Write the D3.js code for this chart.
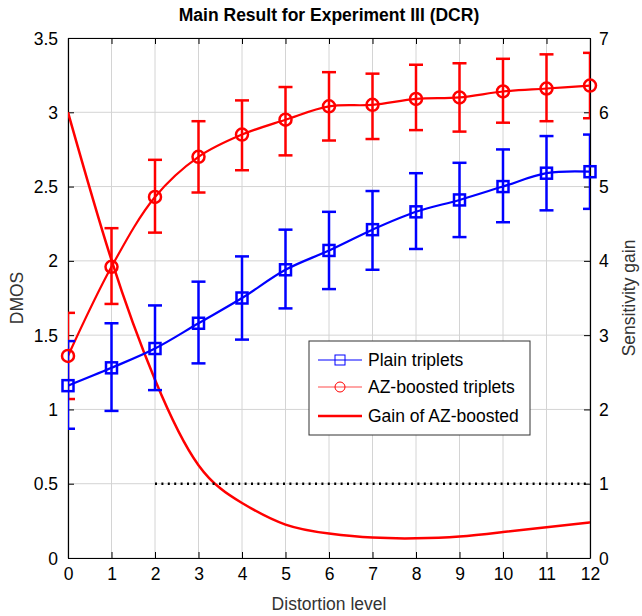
<!DOCTYPE html>
<html>
<head>
<meta charset="utf-8">
<script src="https://cdn.jsdelivr.net/npm/d3@7"></script>
<style>
  body { margin: 0; background: #fff; }
  text { font-family: "Liberation Sans", Arial, sans-serif; }
</style>
</head>
<body>
<svg id="chart" width="642" height="616"></svg>
<script>
// ---- data ----
const levels = [0, 1, 2, 3, 4, 5, 6, 7, 8, 9, 10, 11, 12];
const plainMean = [1.16, 1.28, 1.41, 1.58, 1.75, 1.94, 2.07, 2.21, 2.33, 2.41, 2.50, 2.59, 2.60];
const plainLow  = [0.87, 0.99, 1.13, 1.31, 1.47, 1.68, 1.81, 1.94, 2.08, 2.16, 2.26, 2.34, 2.35];
const plainHigh = [1.46, 1.58, 1.70, 1.86, 2.03, 2.21, 2.33, 2.47, 2.59, 2.66, 2.75, 2.84, 2.85];
const azMean = [1.36, 1.96, 2.43, 2.70, 2.85, 2.95, 3.04, 3.05, 3.09, 3.10, 3.14, 3.16, 3.18];
const azLow  = [1.07, 1.71, 2.19, 2.46, 2.61, 2.71, 2.81, 2.82, 2.88, 2.87, 2.93, 2.94, 2.96];
const azHigh = [1.65, 2.22, 2.68, 2.94, 3.08, 3.17, 3.27, 3.26, 3.32, 3.33, 3.36, 3.39, 3.40];
const gain = [6.0, 4.01, 2.40, 1.25, 0.74, 0.45, 0.33, 0.275, 0.265, 0.29, 0.35, 0.415, 0.48];
const refLevels = [2, 12];
const refGain = [1, 1];
const xTicks = [0, 1, 2, 3, 4, 5, 6, 7, 8, 9, 10, 11, 12];
const yLeftTicks = [0, 0.5, 1, 1.5, 2, 2.5, 3, 3.5];
const yRightTicks = [0, 1, 2, 3, 4, 5, 6, 7];
const legendLabels = ["Plain triplets", "AZ-boosted triplets", "Gain of AZ-boosted"];

// ---- layout ----
const svg = d3.select("#chart");
const L = 68, R = 590, T = 38, B = 558;
const x = d3.scaleLinear().domain([0, 12]).range([L, R]);
const yL = d3.scaleLinear().domain([0, 3.5]).range([B, T]);
const yR = d3.scaleLinear().domain([0, 7]).range([B, T]);
const BLUE = "#0000ff", RED = "#ff0000";

svg.append("rect").attr("width", 642).attr("height", 616).attr("fill", "#fff");

svg.append("defs").append("clipPath").attr("id", "plotclip")
  .append("rect").attr("x", L).attr("y", T).attr("width", R - L).attr("height", B - T);

// grid
const grid = svg.append("g");
grid.selectAll("line.gx").data(xTicks).enter().append("line")
  .attr("x1", d => x(d)).attr("x2", d => x(d)).attr("y1", T).attr("y2", B)
  .attr("stroke", "#d4d4d4").attr("stroke-width", 1);
grid.selectAll("line.gy").data(yLeftTicks).enter().append("line")
  .attr("x1", L).attr("x2", R).attr("y1", d => yL(d)).attr("y2", d => yL(d))
  .attr("stroke", "#d4d4d4").attr("stroke-width", 1);

// axes
const tickLen = 6;
const axB = svg.append("g").attr("transform", `translate(0,${B})`)
  .call(d3.axisBottom(x).tickValues(xTicks).tickSizeInner(-tickLen).tickSizeOuter(0).tickPadding(10).tickFormat(d3.format("d")));
const axT = svg.append("g").attr("transform", `translate(0,${T})`)
  .call(d3.axisTop(x).tickValues(xTicks).tickSizeInner(-tickLen).tickSizeOuter(0).tickFormat(""));
const axL = svg.append("g").attr("transform", `translate(${L},0)`)
  .call(d3.axisLeft(yL).tickValues(yLeftTicks).tickSizeInner(-tickLen).tickSizeOuter(0).tickPadding(10).tickFormat(d => d3.format("")(d)));
const axR = svg.append("g").attr("transform", `translate(${R},0)`)
  .call(d3.axisRight(yR).tickValues(yRightTicks).tickSizeInner(-tickLen).tickSizeOuter(0).tickPadding(9).tickFormat(d3.format("d")));
[axB, axT, axL, axR].forEach(a => {
  a.select(".domain").attr("stroke", "#000").attr("stroke-width", 1.2);
  a.selectAll(".tick line").attr("stroke", "#000").attr("stroke-width", 1);
  a.selectAll("text").attr("font-size", 17.5).attr("fill", "#000")
    .attr("font-family", "'Liberation Sans', Arial, sans-serif");
});
axL.selectAll("text").attr("dy", "0.35em");
axR.selectAll("text").attr("dy", "0.35em");

// plot content
const plot = svg.append("g").attr("clip-path", "url(#plotclip)");
const markers = svg.append("g");

function drawSeries(mean, low, high, color, marker) {
  const g = plot.append("g");
  const line = d3.line().x((d, i) => x(levels[i])).y(d => yL(d)).curve(d3.curveCatmullRom.alpha(0.5));
  g.append("path").datum(mean).attr("d", line).attr("fill", "none")
    .attr("stroke", color).attr("stroke-width", 2.2);
  const cap = 7;
  const eb = g.selectAll("g.eb").data(levels).enter().append("g");
  eb.append("line").attr("x1", d => x(d)).attr("x2", d => x(d))
    .attr("y1", (d, i) => yL(low[i])).attr("y2", (d, i) => yL(high[i]))
    .attr("stroke", color).attr("stroke-width", 2.5);
  eb.append("line").attr("x1", d => x(d) - cap).attr("x2", d => x(d) + cap)
    .attr("y1", (d, i) => yL(low[i])).attr("y2", (d, i) => yL(low[i]))
    .attr("stroke", color).attr("stroke-width", 2.5);
  eb.append("line").attr("x1", d => x(d) - cap).attr("x2", d => x(d) + cap)
    .attr("y1", (d, i) => yL(high[i])).attr("y2", (d, i) => yL(high[i]))
    .attr("stroke", color).attr("stroke-width", 2.5);
  const mg = markers.append("g");
  if (marker === "square") {
    mg.selectAll("rect.m").data(mean).enter().append("rect")
      .attr("x", (d, i) => x(levels[i]) - 5.5).attr("y", d => yL(d) - 5.5)
      .attr("width", 11).attr("height", 11)
      .attr("fill", "none").attr("stroke", color).attr("stroke-width", 2.5);
  } else {
    mg.selectAll("circle.m").data(mean).enter().append("circle")
      .attr("cx", (d, i) => x(levels[i])).attr("cy", d => yL(d)).attr("r", 6)
      .attr("fill", "none").attr("stroke", color).attr("stroke-width", 2.5);
  }
}

// gain curve (right axis)
const gainLine = d3.line().x((d, i) => x(levels[i])).y(d => yR(d)).curve(d3.curveNatural);
plot.append("path").datum(gain).attr("d", gainLine).attr("fill", "none")
  .attr("stroke", RED).attr("stroke-width", 2.5);

// reference line
plot.append("line").attr("x1", x(refLevels[0])).attr("x2", x(refLevels[1]))
  .attr("y1", yR(refGain[0])).attr("y2", yR(refGain[1]))
  .attr("stroke", "#000").attr("stroke-width", 2.5).attr("stroke-dasharray", "2,4.4");

drawSeries(azMean, azLow, azHigh, RED, "circle");
drawSeries(plainMean, plainLow, plainHigh, BLUE, "square");

// titles
svg.append("text").attr("x", 329).attr("y", 21).attr("text-anchor", "middle")
  .attr("font-size", 17.5).attr("font-weight", "bold").text("Main Result for Experiment III (DCR)");
svg.append("text").attr("x", 329).attr("y", 610).attr("text-anchor", "middle")
  .attr("font-size", 17.5).attr("fill", "#333").text("Distortion level");
svg.append("text").attr("transform", `translate(23,${(T + B) / 2}) rotate(-90)`).attr("text-anchor", "middle")
  .attr("font-size", 17.5).attr("fill", "#333").text("DMOS");
svg.append("text").attr("transform", `translate(635,${(T + B) / 2}) rotate(-90)`).attr("text-anchor", "middle")
  .attr("font-size", 17.5).attr("fill", "#333").text("Sensitivity gain");

// legend
const lg = svg.append("g").attr("transform", "translate(309,341)");
lg.append("rect").attr("width", 221).attr("height", 94).attr("fill", "#fff")
  .attr("stroke", "#333").attr("stroke-width", 1);
const rows = [19, 46, 75];
// row 1
lg.append("line").attr("x1", 9).attr("x2", 53).attr("y1", rows[0]).attr("y2", rows[0]).attr("stroke", BLUE).attr("stroke-width", 1);
lg.append("rect").attr("x", 26).attr("y", rows[0] - 5).attr("width", 10).attr("height", 10).attr("fill", "none").attr("stroke", BLUE).attr("stroke-width", 1);
// row 2
lg.append("line").attr("x1", 9).attr("x2", 53).attr("y1", rows[1]).attr("y2", rows[1]).attr("stroke", RED).attr("stroke-width", 1).attr("opacity", 0.7);
lg.append("circle").attr("cx", 31).attr("cy", rows[1]).attr("r", 5).attr("fill", "none").attr("stroke", RED).attr("stroke-width", 1);
// row 3
lg.append("line").attr("x1", 9).attr("x2", 53).attr("y1", rows[2]).attr("y2", rows[2]).attr("stroke", RED).attr("stroke-width", 2.5);
lg.selectAll("text.lt").data(legendLabels).enter().append("text")
  .attr("x", 59).attr("y", (d, i) => rows[i]).attr("dy", "0.35em")
  .attr("font-size", 17.5).attr("fill", "#000").text(d => d);
</script>
</body>
</html>
